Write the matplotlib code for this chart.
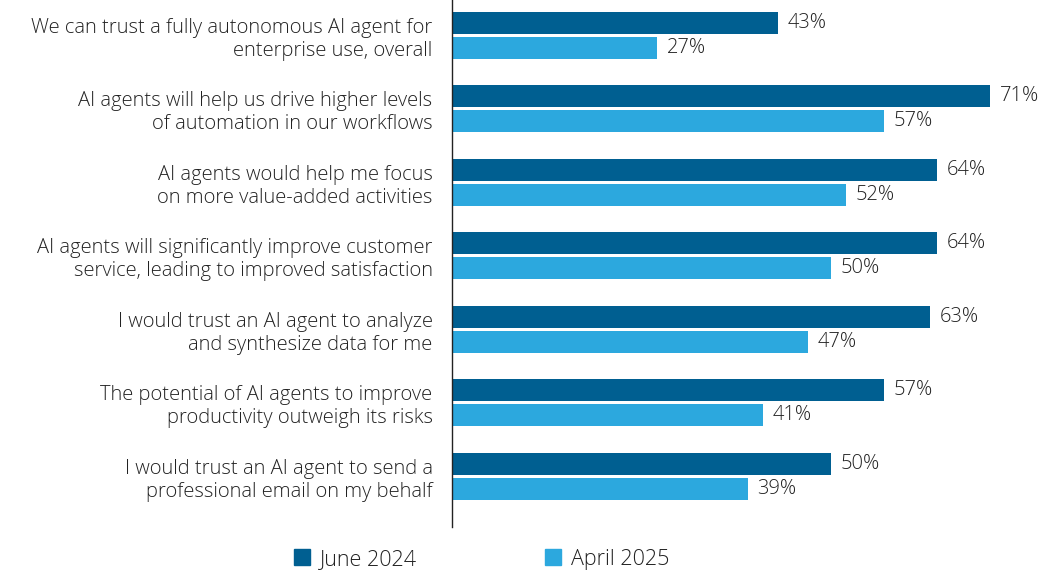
import numpy as np
import matplotlib.pyplot as plt
from matplotlib.patches import Patch

plt.rcParams['font.family'] = ['Open Sans', 'DejaVu Sans']
plt.rcParams['font.weight'] = 'light'

# Data
statements = [
    "We can trust a fully autonomous AI agent for\nenterprise use, overall",
    "AI agents will help us drive higher levels\nof automation in our workflows",
    "AI agents would help me focus\non more value-added activities",
    "AI agents will significantly improve customer\nservice, leading to improved satisfaction",
    "I would trust an AI agent to analyze\nand synthesize data for me",
    "The potential of AI agents to improve\nproductivity outweigh its risks",
    "I would trust an AI agent to send a\nprofessional email on my behalf",
]
june_2024 = [43, 71, 64, 64, 63, 57, 50]
april_2025 = [27, 57, 52, 50, 47, 41, 39]
series_names = ["June 2024", "April 2025"]

dark = "#005F91"
light = "#2CA8DE"
text_color = "#222222"
fs = 14.5

fig = plt.figure(figsize=(10.45, 5.70), dpi=100)
ax = fig.add_axes([452 / 1045, 43 / 570, 583 / 1045, 527 / 570])

y = np.arange(len(statements))
h = 0.30
off = 0.17
ax.barh(y - off, june_2024, height=h, color=dark)
ax.barh(y + off, april_2025, height=h, color=light)

for yi, v in zip(y, june_2024):
    ax.text(v + 1.3, yi - off, f"{v}%", va="center", ha="left", fontsize=fs, color=text_color)
for yi, v in zip(y, april_2025):
    ax.text(v + 1.3, yi + off, f"{v}%", va="center", ha="left", fontsize=fs, color=text_color)

ax.set_xlim(0, 583 / 7.58)
ax.set_ylim(6.69, -0.48)
ax.set_yticks(y)
ax.set_yticklabels(statements, fontsize=fs, color=text_color, ha="right", linespacing=1.2)
ax.tick_params(axis="y", length=0, pad=14)
ax.set_xticks([])
for s in ["top", "right", "bottom"]:
    ax.spines[s].set_visible(False)
ax.spines["left"].set_color("#222222")
ax.spines["left"].set_linewidth(1)

handles = [Patch(color=dark), Patch(color=light)]
fig.legend(handles, series_names, loc="center", bbox_to_anchor=(0.461, 0.019),
           ncol=2, frameon=False, fontsize=15.5, handlelength=0.75, handleheight=0.75,
           handletextpad=0.5, columnspacing=5.9, labelcolor=text_color)

fig.savefig("out.png", dpi=100)
